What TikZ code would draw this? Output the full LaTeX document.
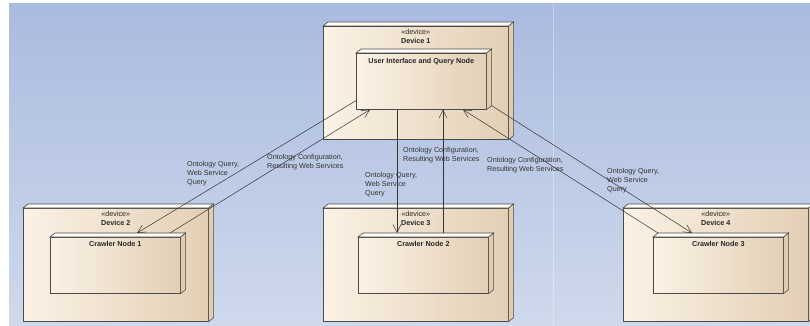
\documentclass[tikz,border=0pt]{standalone}
\usepackage{fontspec}
\setmainfont{Liberation Sans}
\usetikzlibrary{positioning,arrows.meta}

\definecolor{bgtop}{HTML}{A9BBDF}
\definecolor{bgbottom}{HTML}{CFD9EC}
\definecolor{boxleft}{HTML}{FBF2E5}
\definecolor{boxright}{HTML}{E3CFB5}
\definecolor{boxside}{HTML}{E0CCB1}
\definecolor{boxtop}{HTML}{FFFCF7}
\definecolor{edge}{HTML}{4A4A4A}

\tikzset{
  device/.style={draw=edge, line width=0.6pt, left color=boxleft, right color=boxright,
    anchor=north west, inner sep=0pt, minimum width=185pt, minimum height=113pt},
  compnode/.style={device, minimum width=130pt, minimum height=56pt},
  topface/.style={draw=edge, line width=0.6pt, fill=boxtop},
  sideface/.style={draw=edge, line width=0.6pt, fill=boxside},
  boxtext/.style={font=\fontsize{7.2}{9}\selectfont, align=center, inner sep=0pt, text=black!85},
  msg/.style={font=\fontsize{7.2}{8.8}\selectfont, align=left, anchor=north west, inner sep=0pt, text=black!80},
  conn/.style={draw=black!80, line width=0.5pt, -{Straight Barb[length=8pt,width=8pt]}}
}

\begin{document}
\begin{tikzpicture}[x=1pt,y=-1pt]
  \useasboundingbox (0,0) rectangle (810,326);
  \fill[white] (0,0) rectangle (810,326);
  \shade[top color=bgtop, bottom color=bgbottom] (9,4) rectangle (810,326);
  \draw[white, opacity=0.35, line width=0.8pt] (553,4) -- (553,326);

  % devices
  \node[device] (dev1) at (323,26) {};
  \node[device] (dev2) at (23,208) {};
  \node[device] (dev3) at (323,208) {};
  \node[device] (dev4) at (623,208) {};

  % execution nodes
  \node[compnode] (ui) at (356,53) {};
  \node[compnode] (cr1) at (50,237) {};
  \node[compnode] (cr2) at (358,237) {};
  \node[compnode] (cr3) at (653,237) {};

  % 3d faces
  \foreach \n in {dev1,ui,dev2,cr1,dev3,cr2,dev4,cr3} {
    \filldraw[topface] (\n.north west) -- ++(5,-4) -- ([shift={(5,-4)}]\n.north east) -- (\n.north east) -- cycle;
    \filldraw[sideface] (\n.north east) -- ++(5,-4) -- ([shift={(5,-4)}]\n.south east) -- (\n.south east) -- cycle;
  }

  % titles
  \node[boxtext, below=3pt of dev1.north] (dev1t) {«device»\\\textbf{Device 1}};
  \node[boxtext, below=3pt of dev2.north] (dev2t) {«device»\\\textbf{Device 2}};
  \node[boxtext, below=3pt of dev3.north] (dev3t) {«device»\\\textbf{Device 3}};
  \node[boxtext, below=3pt of dev4.north] (dev4t) {«device»\\\textbf{Device 4}};
  \node[boxtext, below=5pt of ui.north] (uit) {\textbf{User Interface and Query Node}};
  \node[boxtext, below=4pt of cr1.north] (cr1t) {\textbf{Crawler Node 1}};
  \node[boxtext, below=4pt of cr2.north] (cr2t) {\textbf{Crawler Node 2}};
  \node[boxtext, below=4pt of cr3.north] (cr3t) {\textbf{Crawler Node 3}};

  % connectors
  \draw[conn] ([yshift=9pt]ui.south west) -- ([xshift=87pt,yshift=4pt]cr1.north west);
  \draw[conn] ([xshift=120pt,yshift=4pt]cr1.north west) -- ([xshift=14pt]ui.south west);
  \draw[conn] ([xshift=41pt]ui.south west) -- ([xshift=39pt,yshift=4pt]cr2.north west);
  \draw[conn] ([xshift=85pt,yshift=4pt]cr2.north west) -- ([xshift=87pt]ui.south west);
  \draw[conn] ([xshift=5pt,yshift=4pt]cr3.north west) -- ([xshift=107pt]ui.south west);
  \draw[conn] ([xshift=5pt,yshift=4pt]ui.south east) -- ([xshift=39pt,yshift=4pt]cr3.north west);

  % messages
  \node[msg] (m1) at (187,161) {Ontology Query,\\Web Service\\Query};
  \node[msg] (m2) at (267,154) {Ontology Configuration,\\Resulting Web Services};
  \node[msg] (m3) at (365,172) {Ontology Query,\\Web Service\\Query};
  \node[msg] (m4) at (403,147) {Ontology Configuration,\\Resulting Web Services};
  \node[msg] (m5) at (487,157) {Ontology Configuration,\\Resulting Web Services};
  \node[msg] (m6) at (607,168) {Ontology Query,\\Web Service\\Query};
\end{tikzpicture}
\end{document}
